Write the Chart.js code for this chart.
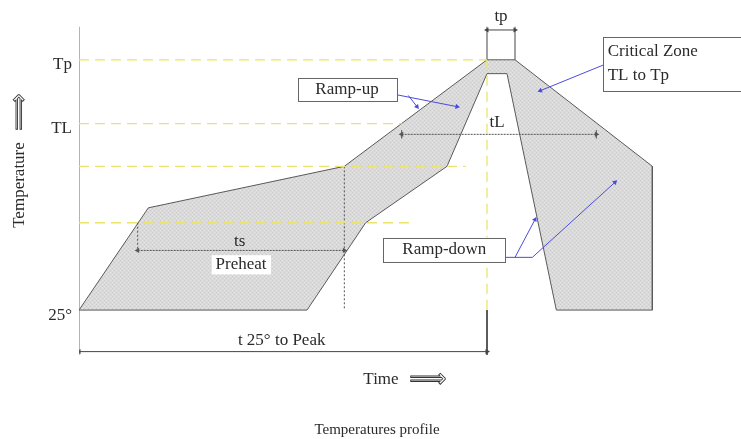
<!DOCTYPE html>
<html>
<head>
<meta charset="utf-8">
<script src="https://cdn.jsdelivr.net/npm/chart.js@4.4.0/dist/chart.umd.min.js"></script>
<style>
  html, body { margin: 0; padding: 0; background: #fff; }
</style>
</head>
<body>
<canvas id="profile-chart" width="741" height="439"></canvas>
<script>
// temperature levels (schematic units)
const T25 = 25;
const TS_MIN = 107;
const TS_MAX = 160;
const TL = 200;
const TP = 260;
const PEAK_TIME = 306;

// gray profile band, outer edge then inner edge
const profileTime = [0, 52, 199, 306, 327, 430, 430, 358, 321, 306, 276, 215, 171, 0];
const profileTemp = [T25, 121, TS_MAX, TP, TP, TS_MAX, T25, T25, 247, 247, TS_MAX, TS_MIN, T25, T25];

// y axis tick labels
const tickValues = [T25, TL, TP];
const tickLabels = ['25°', 'TL', 'Tp'];

// yellow guide lines: level and where each one stops
const guideLevels = [TP, TL, TS_MAX, TS_MIN];
const guideEnds = [PEAK_TIME, 242, 290, 248];

// dimension lines [from, to, at temperature]
const tsSpan = [44, 199, 81];
const tLSpan = [242, 388, 190];
const tpSpan = [PEAK_TIME, 327, 288];
const t25Span = [0, PEAK_TIME, -14];

// blue pointer arrows
const rampUpTime = [239, 283.5];
const rampUpTemp = [227, 216];
const rampUpTime2 = [247, 253.5];
const rampUpTemp2 = [226.5, 216];
const criticalTime = [393, 346];
const criticalTemp = [255, 231];
const rampDownTime = [319.5, 340, 402];
const rampDownTemp = [74.5, 74.5, 145];
const rampDownTime2 = [327, 342];
const rampDownTemp2 = [74.5, 110];

const pts = (xs, ys) => xs.map((x, i) => ({x: x, y: ys[i]}));

function stipple() {
  const c = document.createElement('canvas');
  c.width = 4; c.height = 4;
  const g = c.getContext('2d');
  g.fillStyle = '#dadada'; g.fillRect(0, 0, 4, 4);
  g.fillStyle = '#cbcbcb'; g.fillRect(0, 0, 1, 1); g.fillRect(2, 2, 1, 1);
  g.fillStyle = '#e6e6e6'; g.fillRect(2, 0, 1, 1); g.fillRect(0, 2, 1, 1);
  return g.createPattern(c, 'repeat');
}

// rotate the triangle so it points along the line at its end
function headAngle(ctx) {
  const data = ctx.dataset.data;
  const i = ctx.dataIndex;
  if (i === undefined || data.length < 2) return 0;
  const j = i === 0 ? 1 : i - 1;
  const sx = ctx.chart.scales.x, sy = ctx.chart.scales.y;
  const dx = sx.getPixelForValue(data[i].x) - sx.getPixelForValue(data[j].x);
  const dy = sy.getPixelForValue(data[i].y) - sy.getPixelForValue(data[j].y);
  return Math.atan2(dx, -dy) * 180 / Math.PI;
}

function line(xs, ys, color, extra) {
  return Object.assign({
    data: pts(xs, ys),
    showLine: true,
    borderColor: color,
    borderWidth: 1,
    pointRadius: 0,
    fill: false,
    order: 1
  }, extra || {});
}

function arrow(xs, ys, color, both, extra) {
  return line(xs, ys, color, Object.assign({
    pointStyle: 'triangle',
    pointRadius: ctx => {
      const n = ctx.dataset.data.length;
      if (ctx.dataIndex === n - 1) return 3;
      if (both && ctx.dataIndex === 0) return 3;
      return 0;
    },
    pointRotation: headAngle,
    pointBackgroundColor: color,
    pointBorderColor: color,
    pointBorderWidth: 0
  }, extra || {}));
}

const yellow = '#ece36a';
const blue = '#4b4be0';
const dark = '#555';

const datasets = [];

guideLevels.forEach((lvl, i) => {
  datasets.push(line([0, guideEnds[i]], [lvl, lvl], yellow, {borderDash: [10, 6], borderWidth: 1.3}));
});
datasets.push(line([PEAK_TIME, PEAK_TIME], [TP, T25], yellow, {borderDash: [10, 6], borderWidth: 1.3}));

// axis and the peak marker below the base line
datasets.push(line([0, 0], [-17, 291], '#6a6a6a'));
datasets.push(line([PEAK_TIME, PEAK_TIME], [T25, -17], '#444'));

// dimension lines
datasets.push(line([tsSpan[0], tsSpan[0]], [TS_MIN, tsSpan[2]], dark, {borderDash: [2, 2]}));
datasets.push(line([tsSpan[1], tsSpan[1]], [TS_MAX, T25], dark, {borderDash: [2, 2]}));
datasets.push(arrow([tsSpan[0], tsSpan[1]], [tsSpan[2], tsSpan[2]], dark, true, {borderDash: [2, 1]}));
datasets.push(arrow([tLSpan[0], tLSpan[1]], [tLSpan[2], tLSpan[2]], dark, true, {borderDash: [2, 1]}));
datasets.push(line([tLSpan[0], tLSpan[0]], [tLSpan[2] - 4, tLSpan[2] + 4], dark));
datasets.push(line([tLSpan[1], tLSpan[1]], [tLSpan[2] - 4, tLSpan[2] + 4], dark));
datasets.push(line([tpSpan[0], tpSpan[0]], [TP, 291], '#444'));
datasets.push(line([tpSpan[1], tpSpan[1]], [TP, 291], '#444'));
datasets.push(arrow([tpSpan[0], tpSpan[1]], [tpSpan[2], tpSpan[2]], '#444', true));
datasets.push(arrow([t25Span[0], t25Span[1]], [t25Span[2], t25Span[2]], '#444', true));

// blue pointers
datasets.push(arrow(rampUpTime, rampUpTemp, blue, false));
datasets.push(arrow(rampUpTime2, rampUpTemp2, blue, false));
datasets.push(arrow(criticalTime, criticalTemp, blue, false));
datasets.push(arrow(rampDownTime, rampDownTemp, blue, false));
datasets.push(arrow(rampDownTime2, rampDownTemp2, blue, false));

// the gray band goes underneath everything
datasets.push({
  data: pts(profileTime, profileTemp),
  showLine: true,
  fill: 'shape',
  backgroundColor: stipple(),
  borderColor: '#5a5a5a',
  borderWidth: 1,
  pointRadius: 0,
  order: 10
});

const serif = '"Liberation Serif", "Times New Roman", serif';

// boxes [x1, x2, y1, y2] and texts in chart units
const boxes = [
  [164, 238, 243, 221],
  [393, 500, 281.5, 231],
  [228, 319.5, 93, 70]
];
const notes = [
  ['ts', 120.5, 89.5, 'center'],
  ['Preheat', 121.5, 68, 'center'],
  ['tL', 313.5, 201.5, 'center'],
  ['tp', 316.5, 301, 'center'],
  ['t 25° to Peak', 152, -4, 'center'],
  ['Ramp-up', 201, 232, 'center'],
  ['Critical Zone', 396.5, 267.5, 'left'],
  ['TL to Tp', 396.5, 245, 'left'],
  ['Ramp-down', 274, 81.5, 'center']
];

// hollow double arrow glyph
function hollowArrow(c, x, y) {
  c.font = '26px "DejaVu Sans", sans-serif';
  c.lineWidth = 0.9;
  c.strokeStyle = '#333';
  c.fillStyle = '#fff';
  c.fillText('\u27F9', x, y);
  c.strokeText('\u27F9', x, y);
  c.fillStyle = '#2a2a2a';
}

const notesPlugin = {
  id: 'notes',
  afterDatasetsDraw(chart) {
    const c = chart.ctx;
    const sx = chart.scales.x, sy = chart.scales.y;
    const X = v => sx.getPixelForValue(v);
    const Y = v => sy.getPixelForValue(v);
    c.save();
    // white patch behind "Preheat"
    c.fillStyle = '#fff';
    c.fillRect(X(99.5), Y(76.5), X(144) - X(99.5), Y(58.5) - Y(76.5));
    boxes.forEach(b => {
      c.fillStyle = '#fff';
      c.fillRect(X(b[0]), Y(b[2]), X(b[1]) - X(b[0]), Y(b[3]) - Y(b[2]));
      c.strokeStyle = '#666';
      c.lineWidth = 1;
      c.strokeRect(Math.round(X(b[0])) + 0.5, Math.round(Y(b[2])) + 0.5,
        Math.round(X(b[1]) - X(b[0])), Math.round(Y(b[3]) - Y(b[2])));
    });
    c.fillStyle = '#2a2a2a';
    c.textBaseline = 'middle';
    c.font = '17px ' + serif;
    notes.forEach(n => {
      c.textAlign = n[3];
      c.fillText(n[0], X(n[1]), Y(n[2]));
    });
    c.textAlign = 'center';
    c.fillText('Time', 381, 380);
    c.font = '15px ' + serif;
    c.fillText('Temperatures profile', 377, 430);
    hollowArrow(c, 428, 380);
    c.translate(20, 0);
    c.rotate(-Math.PI / 2);
    hollowArrow(c, -112, 0);
    c.font = '17px ' + serif;
    c.fillText('Temperature', -185, 0);
    c.restore();
  }
};

new Chart(document.getElementById('profile-chart'), {
  type: 'scatter',
  data: { datasets: datasets },
  plugins: [notesPlugin],
  options: {
    responsive: false,
    animation: false,
    layout: { padding: { left: 0, top: 15, right: 22, bottom: 81 } },
    plugins: {
      legend: { display: false },
      tooltip: { enabled: false }
    },
    scales: {
      x: { type: 'linear', min: 0, max: 480, display: false },
      y: {
        type: 'linear',
        min: -20,
        max: 300,
        afterFit: s => { s.width = 79; },
        afterBuildTicks: s => { s.ticks = tickValues.map(v => ({value: v})); },
        grid: { display: false, drawTicks: false },
        border: { display: false },
        ticks: {
          autoSkip: false,
          padding: 7,
          labelOffset: 5,
          color: '#2a2a2a',
          font: { family: serif, size: 17 },
          callback: v => tickLabels[tickValues.indexOf(v)]
        }
      }
    }
  }
});
</script>
</body>
</html>
